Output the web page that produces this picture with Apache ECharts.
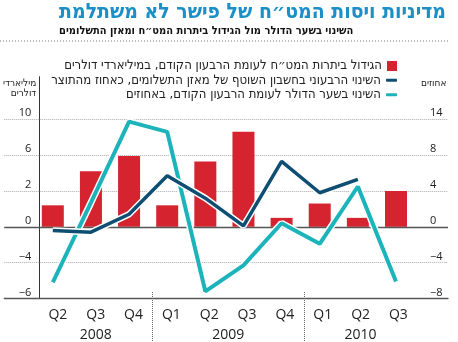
<!DOCTYPE html>
<html><head><meta charset="utf-8">
<script src="https://cdn.jsdelivr.net/npm/echarts@6.0.0/dist/echarts.min.js"></script>
<style>html,body{margin:0;padding:0;background:#fff}#c{width:458px;height:342px}</style>
</head><body><div id="c"></div>
<script>
// ---- data ----
const categories = ['Q2','Q3','Q4','Q1','Q2','Q3','Q4','Q1','Q2','Q3'];
const years = ['2008','2009','2010'];
const quartersPerYear = [3, 4, 3];
const reservesGrowth = [1.2, 4.2, 5.9, 1.2, 5.3, 8.6, 0.5, 1.3, 0.5, 2.0];      // billion $ (left axis)
const currentAccount = [-0.4, -0.6, 1.4, 5.7, 3.2, 0.1, 7.3, 3.8, 5.3, null];  // % of GDP (right axis)
const dollarChange = [-6.2, 2.7, 13.6, 11.9, -7.2, -4.3, 0.4, -1.9, 4.5, -6.1]; // % (right axis)
const leftTicks = [-6, -4, 0, 2, 6, 10];
const rightTicks = [-8, -4, 0, 4, 8, 14];
const seriesNames = [
  'הגידול ביתרות המט״ח לעומת הרבעון הקודם, במיליארדי דולרים',
  'השינוי הרבעוני בחשבון השוטף של מאזן התשלומים, כאחוז מהתוצר',
  'השינוי בשער הדולר לעומת הרבעון הקודם, באחוזים'
];
const titleText = 'מדיניות ויסות המט״ח של פישר לא משתלמת';
const subtitleText = 'השינוי בשער הדולר מול הגידול ביתרות המט״ח ומאזן התשלומים';
const leftAxisName = 'מיליארדי\nדולרים';
const rightAxisName = 'אחוזים';

// ---- helpers: the chart's axes are piecewise (evenly spaced, uneven tick values) ----
function toUnits(v, ticks) {
  const z = ticks.indexOf(0);
  for (let i = 0; i < ticks.length - 1; i++) {
    if (v <= ticks[i + 1] || i === ticks.length - 2) {
      return (i - z) + (v - ticks[i]) / (ticks[i + 1] - ticks[i]);
    }
  }
}
function fmtNum(v) { return v < 0 ? '\u2212' + Math.abs(v) : String(v); }
const zL = leftTicks.indexOf(0), zR = rightTicks.indexOf(0);
const tickUnits = leftTicks.map((t, i) => i - zL);
const gridUnits = tickUnits.filter(u => u > tickUnits[0]);
const xs = categories.map((c, i) => i + 0.5);
const yearCenters = [];
let acc = 0;
quartersPerYear.forEach(n => { yearCenters.push(acc + n / 2); acc += n; });
const yearSeps = [];
acc = 0;
quartersPerYear.slice(0, -1).forEach(n => { acc += n; yearSeps.push(acc); });

const barData = reservesGrowth.map((v, i) => [xs[i], toUnits(v, leftTicks)]);
const caData = currentAccount.map((v, i) => v == null ? null : [xs[i], toUnits(v, rightTicks)]).filter(d => d);
const dollarData = dollarChange.map((v, i) => [xs[i], toUnits(v, rightTicks)]);

const RED = '#d52330', DARK = '#0e4e72', TEAL = '#1cb4ba';
const HEB = 'DejaVu Sans Condensed';
const NUM = 'Open Sans';

const chart = echarts.init(document.getElementById('c'), null, {renderer: 'canvas'});
chart.setOption({
  animation: false,
  backgroundColor: '#fff',
  title: {
    text: titleText, subtext: subtitleText, right: 7, top: -3, itemGap: 3,
    textStyle: {fontFamily: HEB, fontWeight: 'bold', fontSize: 21, color: '#1b8fc8'},
    subtextStyle: {fontFamily: HEB, fontWeight: 'bold', fontSize: 11, color: '#111'}
  },
  graphic: [{
    type: 'line', shape: {x1: 0, y1: 41, x2: 450, y2: 41},
    style: {stroke: '#777', lineWidth: 1, lineDash: [1, 2]}, silent: true
  }, {
    type: 'text', left: 421, top: 78, silent: true,
    style: {text: rightAxisName, fontFamily: HEB, fontSize: 10, fill: '#222'}
  }],
  legend: [{
    data: [seriesNames[0]], right: 56, top: 54.5, icon: 'rect', itemWidth: 10, itemHeight: 10,
    align: 'right', textStyle: {fontFamily: HEB, fontSize: 13, color: '#222'}
  }, {
    data: [seriesNames[1], seriesNames[2]], right: 56, top: 68, orient: 'vertical', icon: 'roundRect',
    itemWidth: 11, itemHeight: 3, itemGap: 0, align: 'right',
    textStyle: {fontFamily: HEB, fontSize: 13, lineHeight: 14.5, color: '#222'}
  }],
  grid: {left: 0, right: 10, top: 77, bottom: 42.5},
  xAxis: [
    {type: 'value', min: -0.773, max: 10.864, show: false},
    {type: 'value', min: -0.916, max: 10.81, position: 'bottom',
      axisLine: {show: true, onZero: false, lineStyle: {color: '#555', width: 1.3}},
      axisTick: {show: false}, splitLine: {show: false},
      axisLabel: {customValues: xs, formatter: v => categories[Math.floor(v)], margin: 10,
        fontFamily: NUM, fontSize: 14, color: '#222'}},
    {type: 'value', min: -0.916, max: 10.81, position: 'bottom', offset: 42.5,
      axisLine: {show: false, onZero: false}, splitLine: {show: false},
      axisTick: {show: true, inside: true, customValues: yearSeps, length: 50,
        lineStyle: {color: '#666', type: 'dotted', width: 1}},
      axisLabel: {customValues: yearCenters, formatter: v => years[yearCenters.indexOf(v)], inside: true, margin: -1,
        fontFamily: NUM, fontSize: 14, color: '#222'}}
  ],
  yAxis: [
    {type: 'value', min: -2, max: 4.18, position: 'left', offset: -35,
      axisLine: {show: true, lineStyle: {color: '#333', width: 1}},
      axisTick: {show: false}, splitLine: {show: false},
      axisLabel: {customValues: tickUnits, formatter: v => fmtNum(leftTicks[Math.round(v) + zL]),
        margin: 8, verticalAlign: 'bottom', lineHeight: 12, fontFamily: NUM, fontSize: 11, color: '#222'},
      name: leftAxisName, nameLocation: 'end', nameGap: -2,
      nameTextStyle: {align: 'right', verticalAlign: 'top', fontFamily: HEB, fontSize: 10, lineHeight: 9.5,
        padding: [0, 3, 0, 0], color: '#222'}},
    {type: 'value', min: -2, max: 4.18, position: 'right', offset: -31,
      axisLine: {show: true, lineStyle: {color: '#333', width: 1}},
      axisTick: {show: false}, splitLine: {show: false},
      axisLabel: {customValues: tickUnits, formatter: v => fmtNum(rightTicks[Math.round(v) + zR]),
        margin: 13, verticalAlign: 'bottom', lineHeight: 12, fontFamily: NUM, fontSize: 11, color: '#222'}}
  ],
  series: [
    {name: seriesNames[0], type: 'bar', xAxisIndex: 0, yAxisIndex: 0, data: barData, barWidth: 22,
      itemStyle: {color: RED}, z: 2,
      markLine: {silent: true, symbol: 'none', z: 1, label: {show: false}, animation: false,
        data: gridUnits.map(u => ({yAxis: u, lineStyle: {type: 'dotted', color: '#aaa', width: 1}}))}},
    {type: 'line', xAxisIndex: 0, yAxisIndex: 0, data: [[xs[0], 0]], symbol: 'none', silent: true,
      lineStyle: {width: 0}, z: 3,
      markLine: {silent: true, symbol: 'none', z: 3, label: {show: false}, animation: false,
        data: [{yAxis: 0, lineStyle: {type: 'solid', color: '#555', width: 1.3}}]}},
    {type: 'line', xAxisIndex: 0, yAxisIndex: 1, data: dollarData, symbol: 'none', silent: true,
      lineStyle: {color: '#fff', width: 7}, z: 4},
    {name: seriesNames[2], type: 'line', xAxisIndex: 0, yAxisIndex: 1, data: dollarData, symbol: 'none',
      itemStyle: {color: TEAL}, lineStyle: {color: TEAL, width: 4}, z: 4},
    {type: 'line', xAxisIndex: 0, yAxisIndex: 1, data: caData, symbol: 'none', silent: true,
      lineStyle: {color: '#fff', width: 6.5}, z: 5},
    {name: seriesNames[1], type: 'line', xAxisIndex: 0, yAxisIndex: 1, data: caData, symbol: 'none',
      itemStyle: {color: DARK}, lineStyle: {color: DARK, width: 3.5}, z: 5}
  ]
});
</script></body></html>
